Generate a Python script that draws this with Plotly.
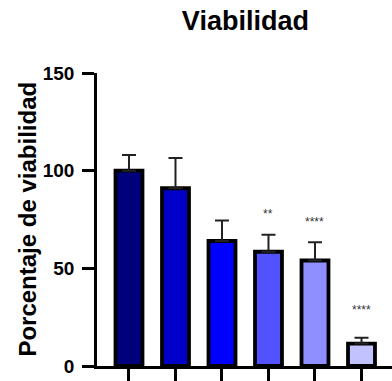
import plotly.graph_objects as go

categories = ["G1", "G2", "G3", "G4", "G5", "G6"]
means = [100, 91, 64, 58.5, 54, 11.5]
errors = [8, 15.5, 10.5, 8.7, 9.3, 3]
colors = ["#00007C", "#0000C8", "#0000FF", "#5252FF", "#8F8FFF", "#C2C2FF"]
sig_labels = ["", "", "", "**", "****", "****"]
sig_y = [0, 0, 0, 78, 73.5, 28.5]
y_ticks = [0, 50, 100, 150]

xpos = list(range(len(categories)))

fig = go.Figure()
fig.add_trace(go.Bar(
    x=xpos, y=means, width=0.58,
    marker=dict(color=colors, line=dict(color="black", width=3.8)),
    error_y=dict(type="data", array=errors, arrayminus=[0]*len(errors),
                 symmetric=False, color="#222222", thickness=2, width=7),
    showlegend=False,
))

for xi, lab, yv in zip(xpos, sig_labels, sig_y):
    if lab:
        fig.add_annotation(x=xi, y=yv, text=lab, showarrow=False,
                           font=dict(family="Liberation Sans", size=12, color="#333333"),
                           xref="x", yref="y")

fig.add_annotation(xref="paper", yref="paper", x=-0.237, y=0.5,
                   text="Porcentaje de viabilidad", textangle=-90, showarrow=False,
                   xanchor="center", yanchor="middle",
                   font=dict(family="Liberation Sans", size=24, color="black", weight="bold"))

fig.update_layout(
    width=392, height=381,
    margin=dict(l=97, r=0, t=73, b=15),
    paper_bgcolor="white", plot_bgcolor="white",
    title=dict(text="Viabilidad", x=0.626, y=1 - 21/381, xanchor="center", yanchor="middle",
               xref="container", yref="container",
               font=dict(family="Liberation Sans", size=27, color="black", weight="bold")),
    bargap=0.4,
)
fig.update_xaxes(range=[-0.688, 5.656], tickvals=xpos, ticktext=[""]*len(xpos),
                 showline=True, linecolor="black", linewidth=2.5,
                 ticks="outside", ticklen=12, tickwidth=2.5, tickcolor="black",
                 showgrid=False, zeroline=False)
fig.update_yaxes(range=[0, 150], tickvals=y_ticks,
                 showline=True, linecolor="black", linewidth=2.5,
                 ticks="outside", ticklen=12, tickwidth=2.5, tickcolor="black",
                 tickfont=dict(family="Liberation Sans", size=19, color="black", weight="bold"),
                 ticklabelstandoff=4,
                 showgrid=False, zeroline=False)

fig.write_html("out.html")
